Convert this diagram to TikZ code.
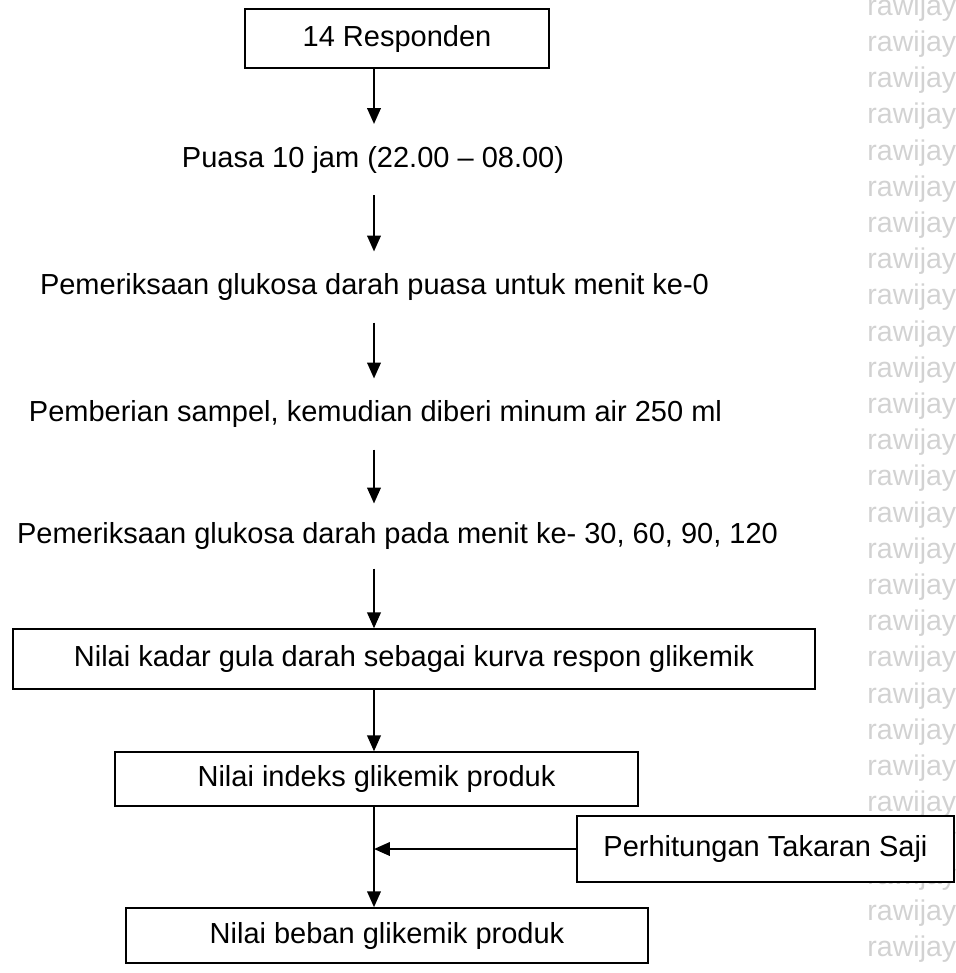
\documentclass[tikz,border=0pt]{standalone}
\usepackage{fontspec}
\setmainfont{Liberation Sans}
\usepackage{tikz}
\usetikzlibrary{arrows.meta, positioning}
\definecolor{wmgray}{RGB}{210,210,210}

\begin{document}
\begin{tikzpicture}[x=0.4138pt, y=-0.4138pt,
  box/.style={draw, line width=0.6pt, fill=white, inner sep=0pt, font=\fontsize{12}{14}\selectfont},
  stage/.style={inner sep=0pt, minimum height=29pt, font=\fontsize{12}{14}\selectfont},
  arr/.style={-{Triangle[length=6.6pt, width=5.6pt]}, line width=0.9pt}]
  \useasboundingbox (0,0) rectangle (955,973);
  % Watermark
  \foreach \k in {0,...,26}
    \node[wmgray, font=\fontsize{11.8}{13}\selectfont, anchor=west, inner sep=0pt] (wm\k) at (867, 8+36.2*\k) {rawijay};
  % Spine of the flow
  \coordinate (spine) at (374,0);
  % Steps
  \node[box, minimum width=125.8pt, minimum height=24.4pt] (resp) at (397,38.5) {14 Responden};
  \node[stage] (puasa) at (373,159.5) {Puasa 10 jam (22.00 – 08.00)};
  \node[stage] (cek0) at (374.5,287) {Pemeriksaan glukosa darah puasa untuk menit ke-0};
  \node[stage] (sampel) at (375.5,414) {Pemberian sampel, kemudian diberi minum air 250 ml};
  \node[stage, minimum height=26.5pt] (cek120) at (397.5,536) {Pemeriksaan glukosa darah pada menit ke- 30, 60, 90, 120};
  \node[box, minimum width=331.9pt, minimum height=24.8pt] (kadar) at (414,659) {Nilai kadar gula darah sebagai kurva respon glikemik};
  \node[box, minimum width=216.4pt, minimum height=22.3pt] (indeks) at (376.5,779) {Nilai indeks glikemik produk};
  \node[box, minimum width=156pt, minimum height=27.3pt] (hitung) at (765.5,849) {Perhitungan Takaran Saji};
  \node[box, minimum width=216pt, minimum height=22.8pt] (beban) at (387,935.5) {Nilai beban glikemik produk};
  % Arrows
  \draw[arr] (resp.south -| spine) -- (puasa.north -| spine);
  \draw[arr] (puasa.south -| spine) -- (cek0.north -| spine);
  \draw[arr] (cek0.south -| spine) -- (sampel.north -| spine);
  \draw[arr] (sampel.south -| spine) -- (cek120.north -| spine);
  \draw[arr] (cek120.south -| spine) -- (kadar.north -| spine);
  \draw[arr] (kadar.south -| spine) -- (indeks.north -| spine);
  \draw[arr] (indeks.south -| spine) -- (beban.north -| spine);
  \draw[arr] (hitung.west) -- (hitung.west -| spine);
\end{tikzpicture}
\end{document}
